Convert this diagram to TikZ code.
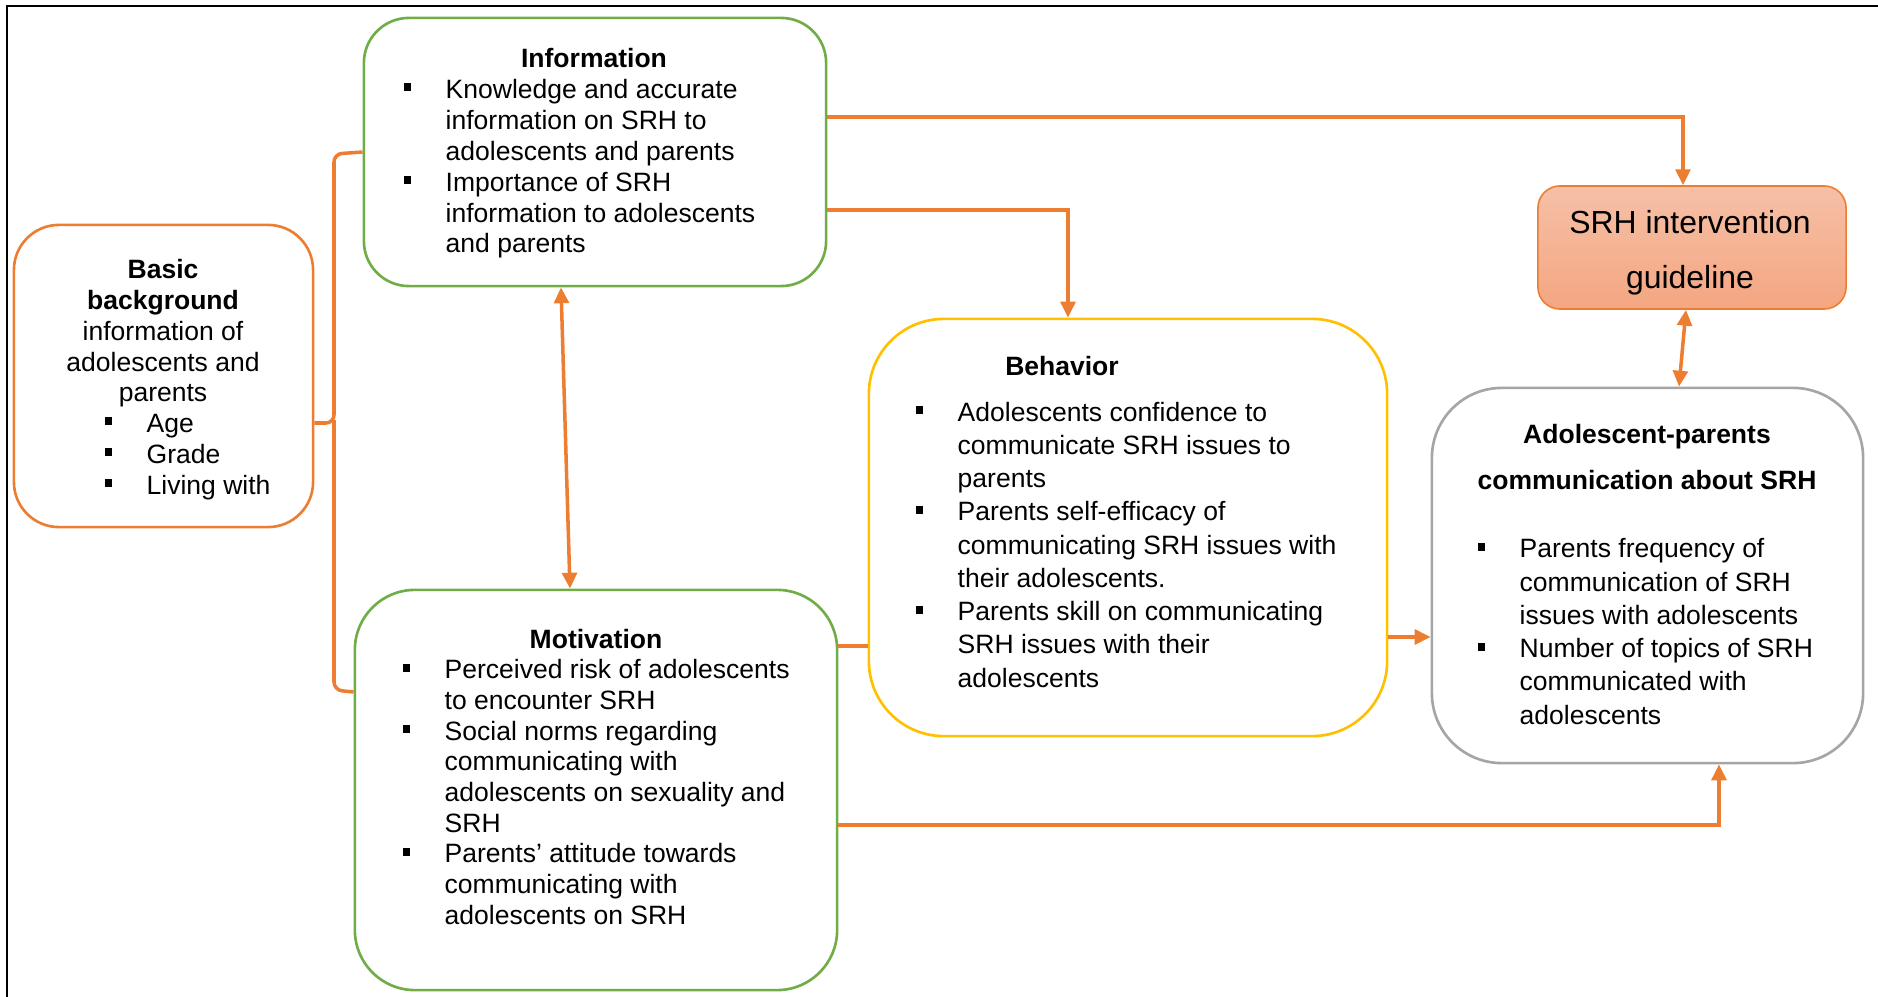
\documentclass[tikz,border=0pt]{standalone}
\usepackage{fontspec}
\setmainfont{Liberation Sans}
\usepackage{xcolor}
\usepackage{tikz}
\usetikzlibrary{arrows.meta}
\usetikzlibrary{positioning}

\definecolor{ibmOrange}{HTML}{ED7D31}
\definecolor{ibmGreen}{HTML}{70AD47}
\definecolor{ibmYellow}{HTML}{FFC000}
\definecolor{ibmGray}{HTML}{A5A5A5}
\definecolor{guideTop}{HTML}{F6C0A7}
\definecolor{guideBot}{HTML}{F4A681}

\newcommand{\sqbul}{\makebox[0.42cm][l]{\rule[2pt]{2.2pt}{2.2pt}}}
\newcommand{\sqind}{\hspace*{0.42cm}}

\begin{document}
\begin{tikzpicture}[x=0.01cm, y=-0.01cm, >={Triangle[length=4.5pt,width=4.2pt]},
  box/.style={draw, line width=0.75pt, fill=white, inner sep=0pt},
  link/.style={draw=ibmOrange, line width=1pt},
  head/.style={anchor=base, align=center, inner sep=0pt, font=\bfseries\fontsize{7.54}{8.8}\selectfont},
  body/.style={anchor=base west, align=left, inner sep=0pt, font=\fontsize{7.54}{8.8}\selectfont},
  bodywide/.style={body, font=\fontsize{7.54}{9.45}\selectfont}]
  \useasboundingbox (0,0) rectangle (1878,997);

  % ===== frame =====
  \draw[line width=0.85pt] (7,997) -- (7,6) -- (1878,6);

  % ===== boxes =====
  \node[box, draw=ibmOrange, rounded corners=0.45cm, minimum width=2.99cm, minimum height=3.02cm] (basic) at (163.5,376) {};
  \node[box, draw=ibmGreen, rounded corners=0.45cm, minimum width=4.62cm, minimum height=2.68cm] (info) at (595,152) {};
  \node[box, draw=ibmGreen, rounded corners=0.6cm, minimum width=4.82cm, minimum height=4.00cm] (motiv) at (596,790) {};
  \node[box, draw=ibmYellow, rounded corners=0.75cm, minimum width=5.18cm, minimum height=4.17cm] (behav) at (1128,527.5) {};
  \node[box, draw=ibmGray, rounded corners=0.7cm, minimum width=4.31cm, minimum height=3.75cm] (comm) at (1647.5,575.5) {};
  \node[box, draw=ibmOrange, line width=0.45pt, rounded corners=0.22cm, top color=guideTop, bottom color=guideBot,
        minimum width=3.08cm, minimum height=1.23cm] (guide) at (1692,247.5) {};
  \node[align=center, inner sep=0pt, font=\fontsize{9.08}{15.6}\selectfont] (guidet) at (1690,253)
    {SRH intervention\\guideline};

  % Basic background (base = last line)
  \node[head, font=\fontsize{7.54}{8.8}\selectfont] (basict) at (163,402)
    {\textbf{Basic}\\\textbf{background}\\information of\\adolescents and\\parents};
  \node[body] (basicb) at (104,494) {\sqbul Age\\\sqbul Grade\\\sqbul Living with};

  % Information
  \node[head] (infot) at (594,68) {Information};
  \node[body] (infob) at (403,253)
    {\sqbul Knowledge and accurate\\\sqind information on SRH to\\\sqind adolescents and parents\\
     \sqbul Importance of SRH\\\sqind information to adolescents\\\sqind and parents};

  % Motivation
  \node[head] (motivt) at (596,648) {Motivation};
  \node[body, font=\fontsize{7.54}{8.72}\selectfont] (motivb) at (402,924)
    {\sqbul Perceived risk of adolescents\\\sqind to encounter SRH\\
     \sqbul Social norms regarding\\\sqind communicating with\\\sqind adolescents on sexuality and\\\sqind SRH\\
     \sqbul Parents’ attitude towards\\\sqind communicating with\\\sqind adolescents on SRH};

  % Behavior
  \node[head] (behavt) at (1062,376) {Behavior};
  \node[bodywide] (behavb) at (915,687)
    {\sqbul Adolescents confidence to\\\sqind communicate SRH issues to\\\sqind parents\\
     \sqbul Parents self-efficacy of\\\sqind communicating SRH issues with\\\sqind their adolescents.\\
     \sqbul Parents skill on communicating\\\sqind SRH issues with their\\\sqind adolescents};

  % Adolescent-parents communication
  \node[head, font=\bfseries\fontsize{7.54}{12.8}\selectfont] (commt) at (1647,489)
    {Adolescent-parents\\communication about SRH};
  \node[bodywide] (commb) at (1477,724)
    {\sqbul Parents frequency of\\\sqind communication of SRH\\\sqind issues with adolescents\\
     \sqbul Number of topics of SRH\\\sqind communicated with\\\sqind adolescents};

  % ===== connectors =====
  \draw[link, rounded corners=0.08cm] (info.west |- 0,152) -- (334,154) -- (334,423) -- (basic.east |- 0,423);
  \draw[link, rounded corners=0.08cm] (334,420) -- (334,690) -- (motiv.west |- 0,692);
  \draw[link, ->] (info.east |- 0,117) -| (guide.north -| 1683,0);
  \draw[link, ->] (info.east |- 0,210) -| (behav.north -| 1068,0);
  \draw[link, <->] (info.south -| 561,0) -- (motiv.north -| 570,0);
  \draw[link] (motiv.east |- 0,646) -- (behav.west |- 0,646);
  \draw[link, ->] (behav.east |- 0,637) -- (comm.west |- 0,637);
  \draw[link, ->] (motiv.east |- 0,825) -| (comm.south -| 1719,0);
  \draw[link, <->] (guide.south -| 1686,0) -- (comm.north -| 1679,0);
\end{tikzpicture}
\end{document}
